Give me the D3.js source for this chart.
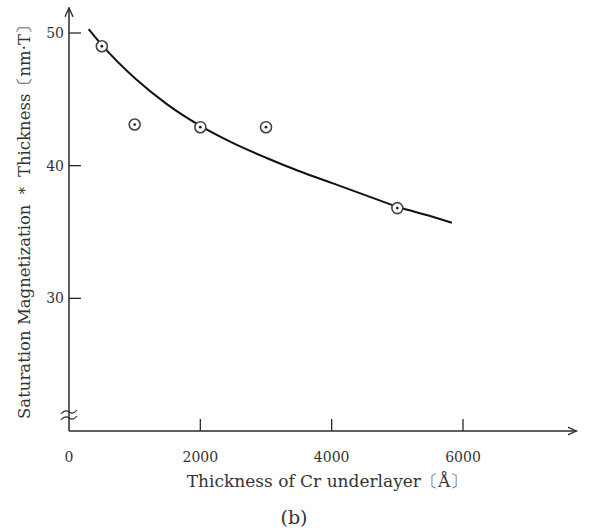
<!DOCTYPE html>
<html>
<head>
<meta charset="utf-8">
<script src="https://cdn.jsdelivr.net/npm/d3@7"></script>
<style>
  body { margin: 0; background: #fff; }
  svg text { font-family: "DejaVu Serif", "Liberation Serif", serif; fill: #333; }
</style>
</head>
<body>
<svg width="589" height="530"></svg>
<script>
// measured points (Cr underlayer thickness, Ms*t)
var pointX = [500, 1000, 2000, 3000, 5000];
var pointY = [49.0, 43.1, 42.9, 42.9, 36.8];

// fitted curve
var curveX = [300, 500, 1000, 1500, 2000, 2500, 3000, 3500, 4000, 4500, 5000, 5500, 5830];
var curveY = [50.3, 49.1, 46.6, 44.6, 43.0, 41.7, 40.6, 39.6, 38.7, 37.8, 36.9, 36.2, 35.7];

var xTicks = [0, 2000, 4000, 6000];
var yTicks = [30, 40, 50];

var svg = d3.select("svg");

var xScale = d3.scaleLinear().domain([0, 6000]).range([69, 463]);
var yScale = d3.scaleLinear().domain([20, 50]).range([431, 33]);

var ink = "#2a2a2a";

// axes drawn by hand with arrows, like the printed figure
svg.append("defs").append("marker")
  .attr("id", "arrow")
  .attr("viewBox", "0 0 10 10")
  .attr("refX", 9).attr("refY", 5)
  .attr("markerWidth", 10).attr("markerHeight", 10)
  .attr("markerUnits", "userSpaceOnUse")
  .attr("orient", "auto")
  .append("path")
  .attr("d", "M0,1 L9,5 L0,9")
  .attr("fill", "none")
  .attr("stroke", ink)
  .attr("stroke-width", 1.3);

svg.append("line")
  .attr("x1", xScale(0)).attr("y1", yScale(20))
  .attr("x2", xScale(7730)).attr("y2", yScale(20))
  .attr("stroke", ink).attr("stroke-width", 1.5)
  .attr("marker-end", "url(#arrow)");

svg.append("line")
  .attr("x1", xScale(0)).attr("y1", yScale(20))
  .attr("x2", xScale(0)).attr("y2", yScale(51.9))
  .attr("stroke", ink).attr("stroke-width", 1.5)
  .attr("marker-end", "url(#arrow)");

// tick marks point inward
svg.selectAll(".xtick")
  .data(xTicks.slice(1))
  .enter().append("line")
  .attr("class", "xtick")
  .attr("x1", function(d) { return xScale(d); })
  .attr("x2", function(d) { return xScale(d); })
  .attr("y1", yScale(20))
  .attr("y2", yScale(20) - 12)
  .attr("stroke", ink).attr("stroke-width", 1.3);

svg.selectAll(".ytick")
  .data(yTicks)
  .enter().append("line")
  .attr("class", "ytick")
  .attr("x1", xScale(0))
  .attr("x2", xScale(0) + 12)
  .attr("y1", function(d) { return yScale(d); })
  .attr("y2", function(d) { return yScale(d); })
  .attr("stroke", ink).attr("stroke-width", 1.3);

svg.selectAll(".xlab")
  .data(xTicks)
  .enter().append("text")
  .attr("class", "xlab")
  .attr("x", function(d) { return xScale(d); })
  .attr("y", 462)
  .attr("text-anchor", "middle")
  .style("font-size", "14px")
  .text(function(d) { return d; });

svg.selectAll(".ylab")
  .data(yTicks)
  .enter().append("text")
  .attr("class", "ylab")
  .attr("x", 64)
  .attr("y", function(d) { return yScale(d); })
  .attr("dy", "0.35em")
  .attr("text-anchor", "end")
  .style("font-size", "14px")
  .text(function(d) { return d; });

// axis break mark
var bx = xScale(0), by = 415;
[-3, 3].forEach(function(off) {
  svg.append("path")
    .attr("d", "M" + (bx - 8) + "," + (by + off + 2) +
      " q4,-5 8,-2 q4,3 8,-2")
    .attr("fill", "none")
    .attr("stroke", ink)
    .attr("stroke-width", 1.2);
});

// curve
var line = d3.line()
  .x(function(d, i) { return xScale(curveX[i]); })
  .y(function(d, i) { return yScale(curveY[i]); })
  .curve(d3.curveMonotoneX);

svg.append("path")
  .datum(curveX)
  .attr("d", line)
  .attr("fill", "none")
  .attr("stroke", "#111")
  .attr("stroke-width", 2);

// points: circle with a dot in the middle
var pts = svg.selectAll(".pt")
  .data(pointX)
  .enter().append("g")
  .attr("class", "pt")
  .attr("transform", function(d, i) {
    return "translate(" + xScale(d) + "," + yScale(pointY[i]) + ")";
  });

pts.append("circle")
  .attr("r", 5.5)
  .attr("fill", "#fff")
  .attr("stroke", "#444")
  .attr("stroke-width", 1.6);

pts.append("circle")
  .attr("r", 1.4)
  .attr("fill", "#222");

svg.append("text")
  .attr("x", 327)
  .attr("y", 487)
  .attr("text-anchor", "middle")
  .style("font-size", "17px")
  .text("Thickness of Cr underlayer〔Å〕");

svg.append("text")
  .attr("transform", "translate(30,218) rotate(-90)")
  .attr("text-anchor", "middle")
  .style("font-size", "16.5px")
  .text("Saturation Magnetization ＊ Thickness〔nm·T〕");

svg.append("text")
  .attr("x", 294)
  .attr("y", 524)
  .attr("text-anchor", "middle")
  .style("font-size", "19px")
  .text("(b)");
</script>
</body>
</html>
